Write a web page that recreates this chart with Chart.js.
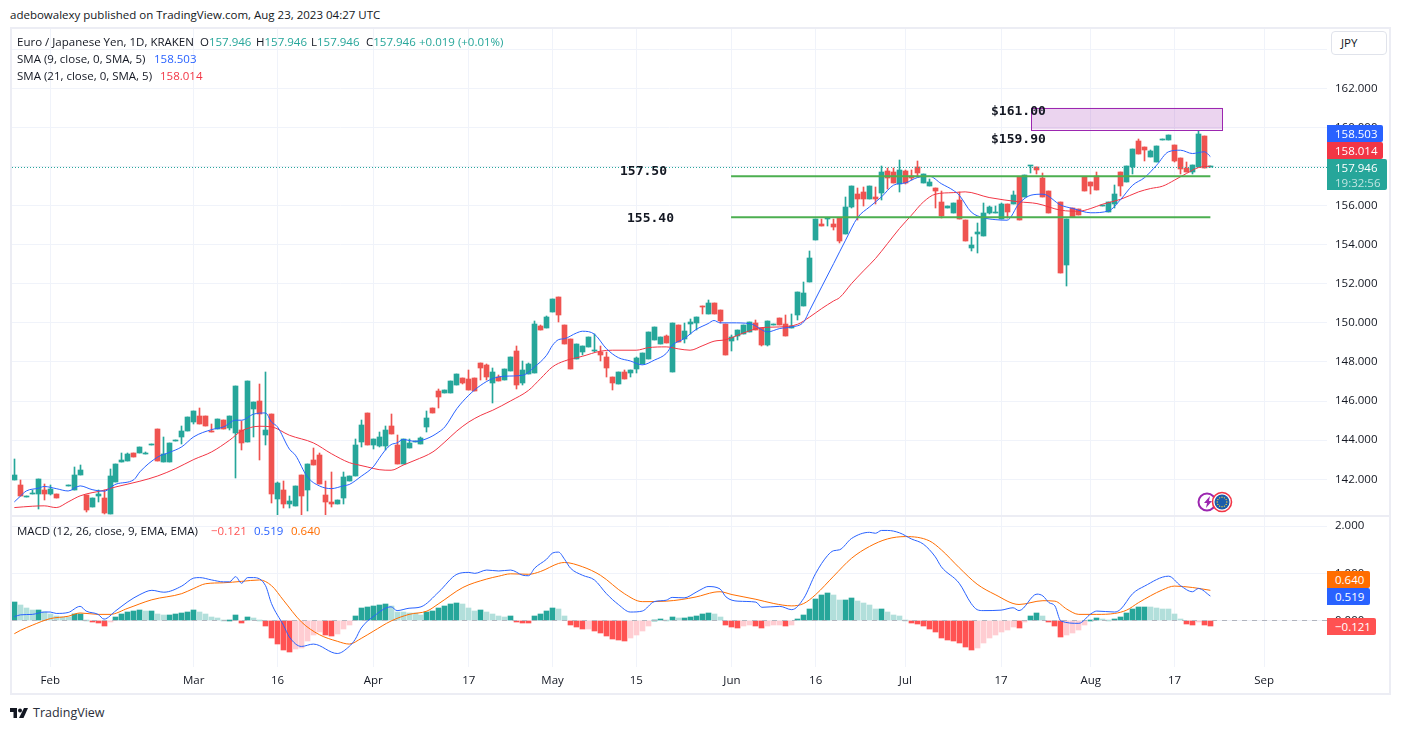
<!DOCTYPE html>
<html lang="en">
<head>
  <meta charset="UTF-8">
  <title>Euro / Japanese Yen, 1D, KRAKEN</title>
  <script src="https://cdn.jsdelivr.net/npm/chart.js"></script>
  <style>
    html, body { margin: 0; padding: 0; background: #fff; }
    body { width: 1401px; height: 730px; position: relative; overflow: hidden; font-family: "Open Sans", sans-serif; font-size: 11.5px; color: #131722; }
    #frame { position: absolute; left: 10px; top: 27px; width: 1377px; height: 664px; border: 2px solid #ecedf4; }
    #split { position: absolute; left: 12px; top: 515px; width: 1377px; height: 2px; background: #ecedf4; }
    canvas { position: absolute; left: 12px; }
    #priceChart { top: 29px; }
    #macdChart { top: 517px; }
    .t { position: absolute; white-space: pre; line-height: 16px; height: 16px; }
    .up { color: #26a69a; }
    .tag { position: absolute; left: 1327px; color: #fff; line-height: 17px; text-align: left; padding-left: 8px; box-sizing: border-box; border-radius: 0 2px 2px 0; }
    .note { position: absolute; font-family: "DejaVu Sans Mono", monospace; font-weight: bold; font-size: 13px; line-height: 16px; color: #131722; white-space: pre; }
    #unit { position: absolute; left: 1331px; top: 31px; width: 56px; height: 24px; box-sizing: border-box; border: 1px solid #e0e3eb; border-radius: 4px; line-height: 22px; padding-left: 9px; background: #fff; }
  </style>
</head>
<body>
  <div class="t" style="left:10px;top:7px">adebowalexy published on TradingView.com, Aug 23, 2023 04:27 UTC</div>
  <div id="frame"></div>
  <div id="split"></div>

  <canvas id="priceChart" width="1379" height="486"></canvas>
  <canvas id="macdChart" width="1379" height="177"></canvas>

  <!-- legend rows -->
  <div class="t" style="left:17px;top:34px">Euro / Japanese Yen, 1D, KRAKEN</div>
  <div class="t" style="left:200px;top:34px">O<span class="up">157.946</span></div>
  <div class="t" style="left:256px;top:34px">H<span class="up">157.946</span></div>
  <div class="t" style="left:311px;top:34px">L<span class="up">157.946</span></div>
  <div class="t" style="left:366px;top:34px">C<span class="up">157.946</span></div>
  <div class="t up" style="left:419px;top:34px">+0.019 (+0.01%)</div>
  <div class="t" style="left:17px;top:51px">SMA (9, close, 0, SMA, 5)</div>
  <div class="t" style="left:154px;top:51px;color:#2962ff">158.503</div>
  <div class="t" style="left:17px;top:68px">SMA (21, close, 0, SMA, 5)</div>
  <div class="t" style="left:160px;top:68px;color:#f23645">158.014</div>
  <div class="t" style="left:17px;top:523px">MACD (12, 26, close, 9, EMA, EMA)</div>
  <div class="t" style="left:211px;top:523px;color:#ff5252">−0.121</div>
  <div class="t" style="left:254px;top:523px;color:#2962ff">0.519</div>
  <div class="t" style="left:291px;top:523px;color:#ff6d00">0.640</div>

  <!-- hand drawn level notes -->
  <div class="note" style="left:991px;top:103px">$161.00</div>
  <div class="note" style="left:991px;top:131px">$159.90</div>
  <div class="note" style="left:620px;top:163px">157.50</div>
  <div class="note" style="left:627px;top:210px">155.40</div>

  <!-- price scale tags -->
  <div id="unit">JPY</div>
  <div class="tag" style="top:125px;width:56px;height:17px;background:#2962ff">158.503</div>
  <div class="tag" style="top:142px;width:56px;height:17px;background:#f23645">158.014</div>
  <div class="tag" style="top:159px;width:60px;height:31px;line-height:15px;padding-top:1px;background:#26a69a">157.946<br><span style="opacity:.7">19:32:56</span></div>
  <div class="tag" style="top:571px;width:43px;height:17px;background:#ff6d00">0.640</div>
  <div class="tag" style="top:588px;width:43px;height:17px;background:#2962ff">0.519</div>
  <div class="tag" style="top:618px;width:49px;height:17px;background:#ff5252">−0.121</div>

  <!-- symbol badges -->
  <svg style="position:absolute;left:1196px;top:490px" width="38" height="24" viewBox="0 0 38 24">
    <circle cx="11" cy="12" r="8.5" fill="#fff" stroke="#9c27b0" stroke-width="2"/>
    <path d="M14 6 8 13h3l-1 5 6-7h-3z" fill="#9c27b0"/>
    <circle cx="26" cy="12" r="9.5" fill="#fff" stroke="#f23645" stroke-width="1.6"/>
    <circle cx="26" cy="12" r="7.5" fill="#1c5cab"/>
    <g id="stars" fill="#f5d33c"></g>
  </svg>

  <!-- footer -->
  <svg style="position:absolute;left:10px;top:706px" width="18" height="14" viewBox="0 0 36 28">
    <path d="M14 24H7V12H0V4h14z" fill="#131722"/><circle cx="20" cy="9" r="4" fill="#131722"/><path d="M28 4h8L27 24h-9z" fill="#131722"/>
  </svg>
  <div class="t" style="left:33px;top:705px;font-size:12.5px;color:#2a2e39">TradingView</div>

  <script>
    // daily candles, one entry per bar, null where no bar shows
    const opens = [
      141.95,141.69,141.09,141.26,141.23,141.47,141.27,141.27,null,141.67,
      141.47,142.21,141.18,140.57,141.13,141.03,140.21,141.85,142.87,142.92,
      143.33,143.33,143.30,143.76,144.56,142.87,142.87,143.97,144.15,144.46,
      144.92,145.22,145.22,144.46,144.56,145.02,144.61,144.35,144.51,143.89,
      145.58,145.99,144.25,145.33,140.98,141.44,140.72,140.62,142.21,141.44,
      142.97,143.23,141.18,140.82,140.72,141.03,141.90,142.15,143.89,145.38,
      143.74,143.69,143.69,144.71,143.74,142.77,143.58,143.88,143.79,144.66,
      145.63,146.50,146.40,146.40,146.81,147.17,147.11,147.17,147.93,147.83,
      146.91,147.22,147.06,147.52,148.55,146.91,147.37,147.42,149.83,149.72,
      150.54,151.31,149.88,149.16,148.14,148.50,148.75,148.58,148.50,148.24,
      147.22,146.86,147.47,147.42,147.63,147.88,148.14,149.11,148.90,149.31,
      147.47,149.88,149.16,149.96,149.98,150.85,150.44,151.00,150.64,149.93,
      149.06,149.31,149.42,149.52,149.98,149.72,148.85,149.90,150.24,149.93,
      149.72,150.39,150.85,152.08,154.23,155.04,155.30,155.04,155.35,154.53,
      155.91,156.58,156.68,156.32,156.42,156.63,157.75,157.70,157.09,157.75,
      157.53,157.96,157.14,156.99,156.88,156.17,155.86,155.61,156.27,155.25,
      153.82,154.53,154.43,155.61,155.63,155.30,156.07,156.07,157.45,156.43,
      158.00,157.96,157.40,156.73,null,156.17,152.95,155.86,155.81,157.45,
      157.19,157.50,156.00,155.66,156.07,157.71,157.19,157.96,159.29,158.98,
      158.47,158.22,159.37,159.34,159.09,158.42,157.91,157.71,157.96,159.55,
      157.946];
    const closes = [
      142.21,141.13,141.11,141.28,142.00,141.23,141.49,141.03,null,141.69,
      142.21,142.46,140.42,141.03,141.27,140.28,142.15,142.77,142.97,143.28,
      143.13,143.64,143.32,143.78,142.92,143.28,143.84,143.99,144.46,145.17,
      145.48,144.81,144.71,144.41,145.07,144.56,145.22,146.76,143.84,147.01,
      145.94,145.33,144.51,141.23,141.80,140.72,140.88,141.64,141.13,142.77,
      142.72,141.75,140.82,140.72,140.93,142.10,142.15,143.74,144.76,143.74,
      144.05,144.15,144.50,144.30,142.77,144.05,143.84,143.90,144.10,145.12,
      145.38,146.19,146.55,147.01,147.37,146.91,146.55,146.50,147.68,147.22,
      147.47,147.01,147.63,148.24,146.81,147.57,147.88,149.93,149.62,150.29,
      151.21,150.39,148.90,147.63,148.90,148.80,149.26,148.63,148.34,147.68,
      146.91,147.47,147.11,147.57,148.19,148.44,149.52,149.77,149.26,148.96,
      149.98,149.01,149.57,150.05,150.29,150.82,151.00,150.44,150.08,148.34,
      149.26,149.62,149.88,150.03,149.62,148.85,150.08,149.92,149.88,149.31,
      149.83,151.57,151.51,153.30,155.30,154.94,155.38,154.89,154.17,155.91,
      156.99,156.32,156.32,156.99,156.32,157.70,157.40,157.14,157.81,157.14,
      157.40,157.65,157.60,157.19,156.73,155.45,155.96,156.12,155.30,154.17,
      153.97,154.63,155.61,155.91,155.65,156.07,155.66,156.53,155.25,157.55,
      158.02,157.81,156.43,155.61,null,152.54,155.30,155.40,155.51,156.73,
      156.99,156.78,156.02,156.17,156.58,156.99,158.01,158.88,158.63,158.83,
      158.78,159.04,159.39,159.60,158.27,157.86,157.71,158.06,159.65,157.927,
      157.946];
    const highs = [
      143.02,141.98,141.11,141.47,142.00,141.78,141.73,141.27,null,141.69,
      142.62,142.72,141.18,141.03,141.47,141.47,142.51,142.77,143.33,143.33,
      143.33,143.64,143.38,143.78,144.56,144.15,143.84,143.99,144.71,145.17,
      145.48,145.63,145.22,144.81,145.07,145.02,145.22,146.76,144.97,147.01,
      145.94,146.86,147.47,145.33,141.85,141.90,141.13,141.64,142.21,142.77,
      143.59,143.33,141.90,142.36,140.93,142.36,142.15,144.05,145.02,145.38,
      144.05,144.40,144.71,145.32,144.25,144.05,144.05,143.90,144.15,145.48,
      145.63,146.60,146.55,147.01,147.37,147.17,147.57,147.17,147.93,147.88,
      147.68,147.32,147.63,148.24,148.80,148.04,147.93,150.08,149.88,150.34,
      151.21,151.31,149.88,149.16,148.90,148.80,149.26,149.42,148.80,148.50,
      147.22,147.47,147.57,147.57,148.24,148.44,149.52,149.77,149.26,149.37,
      149.98,149.88,149.98,150.18,150.29,150.85,151.16,151.00,150.64,149.93,
      149.37,149.62,149.88,150.03,150.13,149.72,150.08,149.92,150.24,150.39,
      150.44,151.57,152.08,153.66,155.30,155.30,155.38,155.30,155.35,156.42,
      156.99,156.88,156.94,156.99,156.94,158.01,157.91,157.91,158.32,157.81,
      157.81,158.27,157.60,157.35,156.88,156.73,155.96,156.12,156.68,155.25,
      154.38,155.09,156.12,155.96,155.96,156.12,156.07,156.73,157.45,157.55,
      158.02,157.96,157.65,156.73,null,156.17,155.30,155.86,155.81,157.45,
      157.19,157.71,156.02,156.17,157.04,157.71,158.01,158.88,159.39,158.98,
      158.83,159.04,159.39,159.60,159.09,158.42,158.22,158.06,159.80,159.55,
      157.946];
    const lows = [
      141.95,141.13,141.09,141.26,140.47,140.93,141.18,141.03,null,141.67,
      141.47,142.21,140.33,140.57,140.82,140.21,140.21,141.85,142.87,142.92,
      143.13,143.33,143.28,143.76,142.92,142.87,142.87,143.97,143.79,144.46,
      144.81,144.81,144.71,144.41,144.56,144.56,144.51,142.05,143.48,143.89,
      144.15,142.97,143.74,140.77,140.16,140.52,140.52,140.62,140.16,140.36,
      142.72,141.75,140.16,140.57,140.72,140.72,141.90,142.15,143.65,143.74,
      143.53,143.64,143.48,144.30,142.77,142.77,143.58,143.88,143.79,144.40,
      145.38,145.63,146.40,146.40,146.81,146.86,146.55,146.50,147.06,147.06,
      145.89,147.01,147.06,147.52,146.60,146.81,147.37,147.42,149.62,149.72,
      150.54,150.03,148.90,147.63,148.14,148.34,148.75,148.50,148.04,147.22,
      146.55,146.86,147.11,147.22,147.42,147.88,148.14,149.11,148.90,148.96,
      147.47,149.01,148.96,149.42,149.62,150.47,150.44,150.44,149.98,148.34,
      148.55,149.11,149.42,149.52,149.62,148.80,148.80,149.90,149.88,149.31,
      149.72,150.13,150.85,152.08,154.23,154.94,154.94,154.74,154.07,154.53,
      155.86,155.25,155.96,156.32,156.07,156.27,156.83,157.14,156.68,157.09,
      157.29,157.45,157.14,156.99,155.86,155.35,155.86,155.61,155.30,154.17,
      153.66,153.56,154.43,155.55,155.61,155.30,155.35,156.07,155.25,156.43,
      157.67,157.60,156.43,155.61,null,152.54,151.87,155.40,155.51,156.73,
      156.58,156.78,156.00,155.66,155.86,156.48,157.19,157.60,158.63,158.27,
      158.47,158.22,159.37,159.34,158.22,157.60,157.71,157.60,157.96,157.927,
      157.946];

    // moving averages, bar number and value
    const sma9Bars = [
      0,1,2,4,5,7,9,11,13,15,
      17,20,21,24,26,28,30,33,35,37,
      38,40,42,43,44,46,47,49,51,53,
      55,56,58,60,61,62,63,64,65,67,
      69,71,72,74,76,78,80,82,85,87,
      89,90,91,92,94,95,97,99,101,103,
      105,107,109,110,112,114,116,117,118,120,
      123,126,128,130,132,133,135,137,139,141,
      143,145,147,149,151,153,155,157,158,160,
      162,164,166,168,170,172,175,177,180,183,
      185,187,189,191,193,195,197,199,200];
    const sma9Values = [
      140.84,141.13,141.40,141.54,141.63,141.52,141.40,141.66,141.47,141.39,
      141.75,141.98,142.38,143.14,143.38,143.66,144.17,144.54,144.68,145.02,
      145.02,145.33,145.39,144.93,144.68,143.54,143.23,142.12,141.66,141.52,
      141.66,141.73,142.15,142.63,143.06,143.48,143.77,143.86,144.03,143.94,
      144.08,144.42,144.68,145.61,146.30,146.81,147.15,147.27,147.32,147.75,
      148.34,148.85,149.14,149.19,149.48,149.57,149.42,148.68,148.22,148.05,
      147.85,148.09,148.43,148.85,149.19,149.66,149.96,150.12,150.00,150.00,
      149.96,149.54,149.71,149.79,150.05,150.64,151.84,153.03,154.23,155.38,
      155.93,156.44,157.04,157.16,157.43,157.50,157.12,156.78,156.53,155.67,
      155.38,155.28,155.25,156.10,156.53,156.58,156.02,155.85,155.63,155.73,
      156.31,157.04,157.43,158.06,158.75,158.83,158.66,158.75,158.503];
    const sma21Bars = [
      0,3,5,7,9,11,15,17,21,24,
      27,30,33,36,38,41,43,46,50,53,
      56,57,59,61,63,65,67,70,72,74,
      76,78,80,83,86,88,90,92,95,98,
      100,104,106,109,111,113,115,117,119,122,
      125,128,131,133,135,137,138,140,142,144,
      146,148,150,152,154,157,159,163,168,171,
      175,178,180,182,185,188,190,192,194,196,
      198,200];
    const sma21Values = [
      140.55,140.62,140.64,140.55,140.84,141.15,141.44,141.61,141.90,142.17,
      142.55,143.01,143.40,144.00,144.47,144.71,144.68,144.25,143.86,143.31,
      142.85,142.77,142.63,142.49,142.46,142.72,142.97,143.40,143.91,144.47,
      144.93,145.27,145.53,146.01,146.55,147.15,147.75,148.05,148.29,148.55,
      148.60,148.60,148.73,148.77,148.67,148.60,148.82,149.06,149.14,149.49,
      149.76,149.79,149.93,150.30,150.73,151.12,151.29,152.01,152.66,153.29,
      154.05,154.82,155.50,156.18,156.58,156.66,156.70,156.41,156.19,156.10,
      155.76,155.71,155.85,156.07,156.32,156.70,156.87,156.99,157.30,157.64,
      157.94,158.014];

    // drawn levels and zone
    const lastClose = 157.946;
    const levels = [157.50, 155.40];
    const levelBars = [119.85, 200];
    const zoneValues = [161.00, 159.90];
    const zoneBars = [170.06, 202];

    // MACD histogram, one per bar
    const histogram = [
      .39,.33,.26,.22,.23,.18,.13,.09,.08,.07,
      .13,.14,.00,-.04,-.06,-.12,-.04,.07,.13,.18,
      .20,.22,.20,.21,.13,.11,.12,.13,.15,.18,
      .22,.18,.13,.07,.06,.01,.02,.11,-.06,.07,
      .06,.01,-.12,-.38,-.50,-.63,-.67,-.61,-.59,-.44,
      -.31,-.25,-.31,-.32,-.29,-.18,-.10,.09,.26,.28,
      .30,.33,.34,.30,.18,.17,.16,.15,.11,.18,
      .20,.26,.30,.35,.37,.35,.26,.20,.22,.18,
      .13,.09,.07,.09,-.04,-.05,-.06,.09,.13,.20,
      .26,.24,.09,-.10,-.14,-.18,-.17,-.23,-.27,-.33,
      -.40,-.42,-.43,-.38,-.31,-.23,-.12,.01,.03,.02,
      .07,.05,.06,.07,.09,.13,.16,.13,.07,-.10,
      -.14,-.15,-.12,-.10,-.12,-.16,-.12,-.10,-.09,-.12,
      -.10,.03,.11,.24,.45,.54,.58,.54,.43,.44,
      .48,.41,.37,.33,.24,.25,.18,.11,.09,.01,
      -.06,-.08,-.12,-.18,-.25,-.38,-.42,-.44,-.48,-.57,
      -.63,-.59,-.48,-.38,-.31,-.25,-.21,-.14,-.16,-.01,
      .09,.16,.09,-.04,-.12,-.35,-.31,-.27,-.21,-.10,
      .005,.05,.03,.02,.03,.07,.16,.24,.28,.29,
      .28,.26,.25,.24,.13,.03,-.08,-.10,-.03,-.10,
      -.121];
    const macdBars = [
      0,1,3,5,6,7,9,11,12,14,
      15,17,19,21,23,25,28,30,31,33,
      35,36,37,38,39,40,42,43,45,46,
      48,50,54,56,57,58,60,63,64,66,
      68,71,74,76,77,79,81,83,85,86,
      87,89,90,91,92,93,95,97,99,101,
      103,105,107,109,110,112,114,115,116,118,
      119,121,124,125,128,130,132,134,136,137,
      138,140,143,144,145,146,148,150,152,154,
      155,158,160,161,162,165,167,168,171,172,
      173,174,175,178,180,181,184,185,187,189,
      193,195,197,198,200];
    const macdValues = [
      .08,.12,.13,.18,.18,.15,.17,.30,.20,.13,
      .03,.21,.40,.55,.64,.60,.73,.90,.91,.86,
      .82,.82,.93,.79,.91,.91,.74,.36,-.10,-.35,
      -.55,-.50,-.70,-.55,-.40,-.16,.08,.29,.21,.26,
      .29,.61,.98,1.02,1.00,1.07,1.05,1.07,.96,.95,
      1.11,1.30,1.43,1.45,1.30,1.11,.96,.86,.57,.34,
      .18,.20,.40,.43,.49,.48,.60,.67,.72,.67,
      .50,.41,.39,.28,.30,.23,.47,1.00,1.38,1.48,
      1.50,1.74,1.87,1.85,1.91,1.91,1.86,1.73,1.62,1.35,
      1.14,.79,.36,.23,.21,.22,.27,.21,.56,.52,
      .38,.31,-.01,-.06,.14,.20,.18,.24,.57,.73,
      .94,.74,.61,.68,.519];
    const signalBars = [
      0,1,3,6,9,11,14,16,19,23,
      28,30,32,35,38,41,43,45,48,51,
      54,56,58,60,63,66,69,71,75,79,
      81,83,86,88,91,92,95,98,102,105,
      109,114,117,118,120,124,127,130,132,134,
      137,140,143,146,149,153,155,158,161,164,
      168,172,174,176,178,181,184,186,188,192,
      194,197,200];
    const signalValues = [
      -.28,-.21,-.10,.04,.09,.16,.13,.13,.26,.44,
      .57,.68,.78,.80,.83,.86,.74,.43,-.03,-.30,
      -.44,-.50,-.38,-.23,-.01,.13,.20,.36,.70,.88,
      .94,.99,.98,1.04,1.21,1.23,1.14,.96,.57,.40,
      .41,.50,.60,.61,.55,.45,.36,.31,.36,.55,
      .94,1.32,1.57,1.73,1.78,1.69,1.50,1.12,.77,.55,
      .34,.42,.41,.24,.13,.13,.15,.22,.38,.65,
      .73,.70,.640];

    // axis ticks
    const priceTicks = [142,144,146,148,150,152,154,156,158,160,162,164];
    const macdTicks = [0,1,2];
    const dateBars = [6,30,44,60,76,90,104,120,134,149,165,180,194,209];
    const dateLabels = ['Feb','Mar','16','Apr','17','May','15','Jun','16','Jul','17','Aug','17','Sep'];

    const UP = '#26a69a', DOWN = '#ef5350';
    const GRID = '#f0f3fa';

    Chart.defaults.font.family = '"Open Sans", sans-serif';
    Chart.defaults.font.size = 11.5;
    Chart.defaults.color = '#131722';

    const points = (bars, values) => bars.map((x, k) => ({ x: x, y: values[k] }));
    const barNumbers = opens.map((_, i) => i).filter(i => opens[i] !== null);

    const line = (data, color, order, extra) => Object.assign({
      type: 'line', data: data, borderColor: color, borderWidth: 1, pointRadius: 0,
      cubicInterpolationMode: 'monotone', order: order
    }, extra);

    // bars land on whole pixels so candle bodies and wicks stay sharp
    const crispBars = {
      id: 'crispBars',
      afterDatasetsUpdate(chart) {
        chart.data.datasets.forEach((ds, k) => {
          if (ds.type === 'line') return;
          chart.getDatasetMeta(k).data.forEach(el => {
            el.x = Math.floor(el.x) + 0.5;
            el.y = Math.round(el.y);
            el.base = Math.round(el.base);
            if (el.y === el.base) el.base = el.y + 1;
          });
        });
      }
    };

    // the shaded zone between two prices
    const zonePlugin = {
      id: 'zone',
      afterDatasetsDraw(chart) {
        const { ctx, scales } = chart;
        const left = scales.x.getPixelForValue(zoneBars[0]);
        const right = scales.x.getPixelForValue(zoneBars[1]);
        const top = scales.y.getPixelForValue(zoneValues[0]);
        const bottom = scales.y.getPixelForValue(zoneValues[1]);
        ctx.save();
        ctx.fillStyle = 'rgba(156,39,176,0.2)';
        ctx.fillRect(left, top, right - left, bottom - top);
        ctx.strokeStyle = '#9c27b0';
        ctx.lineWidth = 1;
        ctx.strokeRect(Math.round(left) + 0.5, Math.round(top) + 0.5, Math.round(right - left), Math.round(bottom - top));
        ctx.restore();
      }
    };

    function xAxis(showLabels) {
      return {
        type: 'linear', min: -0.39, max: 219.5, offset: false, bounds: 'data',
        grid: { color: GRID, offset: false, drawTicks: false },
        border: { display: false },
        afterBuildTicks: scale => { scale.ticks = dateBars.map(v => ({ value: v })); },
        afterFit: scale => {
          scale.height = showLabels ? 27 : 0;
          scale.paddingLeft = scale.paddingRight = 0;
        },
        ticks: {
          display: showLabels, autoSkip: false, maxRotation: 0, padding: 7,
          callback: (value, index) => dateLabels[index]
        }
      };
    }

    function yAxis(min, max, tickValues, label) {
      return {
        position: 'right', min: min, max: max, bounds: 'data',
        grid: { color: GRID, drawTicks: false },
        border: { display: false },
        afterBuildTicks: scale => { scale.ticks = tickValues.map(v => ({ value: v })); },
        afterFit: scale => {
          scale.width = 64;
          scale.paddingTop = scale.paddingBottom = 0;
        },
        ticks: { padding: 8, callback: label }
      };
    }

    const baseOptions = {
      responsive: false, animation: false, events: [],
      layout: { padding: 0 },
      plugins: { legend: { display: false }, tooltip: { enabled: false } }
    };

    new Chart(document.getElementById('priceChart'), {
      type: 'bar',
      plugins: [crispBars, zonePlugin],
      data: {
        datasets: [
          line(points(levelBars, [levels[0], levels[0]]), '#4caf50', 1, { borderWidth: 2 }),
          line(points(levelBars, [levels[1], levels[1]]), '#4caf50', 1, { borderWidth: 2 }),
          line(points(sma9Bars, sma9Values), '#2962ff', 2),
          line(points(sma21Bars, sma21Values), '#f23645', 3),
          line(points([-0.39, 219.5], [lastClose, lastClose]), UP, 4, { borderDash: [1, 2] }),
          {
            data: barNumbers.map(i => ({ x: i, y: [opens[i], closes[i]] })),
            backgroundColor: barNumbers.map(i => closes[i] >= opens[i] ? UP : DOWN),
            barThickness: 5, minBarLength: 1, grouped: false, order: 5
          },
          {
            data: barNumbers.map(i => ({ x: i, y: [lows[i], highs[i]] })),
            backgroundColor: barNumbers.map(i => closes[i] >= opens[i] ? UP : DOWN),
            barThickness: 1, minBarLength: 1, grouped: false, order: 6
          }
        ]
      },
      options: Object.assign({}, baseOptions, {
        scales: {
          x: xAxis(false),
          y: yAxis(140.171, 165.03, priceTicks, v => v > 162 ? '' : v.toFixed(3))
        }
      })
    });

    // histogram shade follows the direction of change from the previous bar
    const histColor = histogram.map((v, i) => {
      const rising = i === 0 || v > histogram[i - 1];
      if (v >= 0) return rising ? UP : '#b2dfdb';
      return rising ? '#ffcdd2' : '#ff5252';
    });

    new Chart(document.getElementById('macdChart'), {
      type: 'bar',
      plugins: [crispBars],
      data: {
        datasets: [
          line(points(macdBars, macdValues), '#2962ff', 1),
          line(points(signalBars, signalValues), '#ff6d00', 2),
          line(points([-0.39, 219.5], [0, 0]), '#b2b5be', 3, { borderDash: [5, 5] }),
          {
            data: histogram.map((v, i) => ({ x: i, y: v })),
            backgroundColor: histColor,
            barThickness: 5, minBarLength: 1, grouped: false, order: 4
          }
        ]
      },
      options: Object.assign({}, baseOptions, {
        scales: {
          x: xAxis(true),
          y: yAxis(-0.986, 2.195, macdTicks, v => v.toFixed(3))
        }
      })
    });

    // twelve stars around the badge disc
    const stars = document.getElementById('stars');
    for (let s = 0; s < 12; s++) {
      const a = s * Math.PI / 6;
      const c = document.createElementNS('http://www.w3.org/2000/svg', 'circle');
      c.setAttribute('cx', 26 + 4.8 * Math.cos(a));
      c.setAttribute('cy', 12 + 4.8 * Math.sin(a));
      c.setAttribute('r', 0.7);
      stars.appendChild(c);
    }
  </script>
</body>
</html>
